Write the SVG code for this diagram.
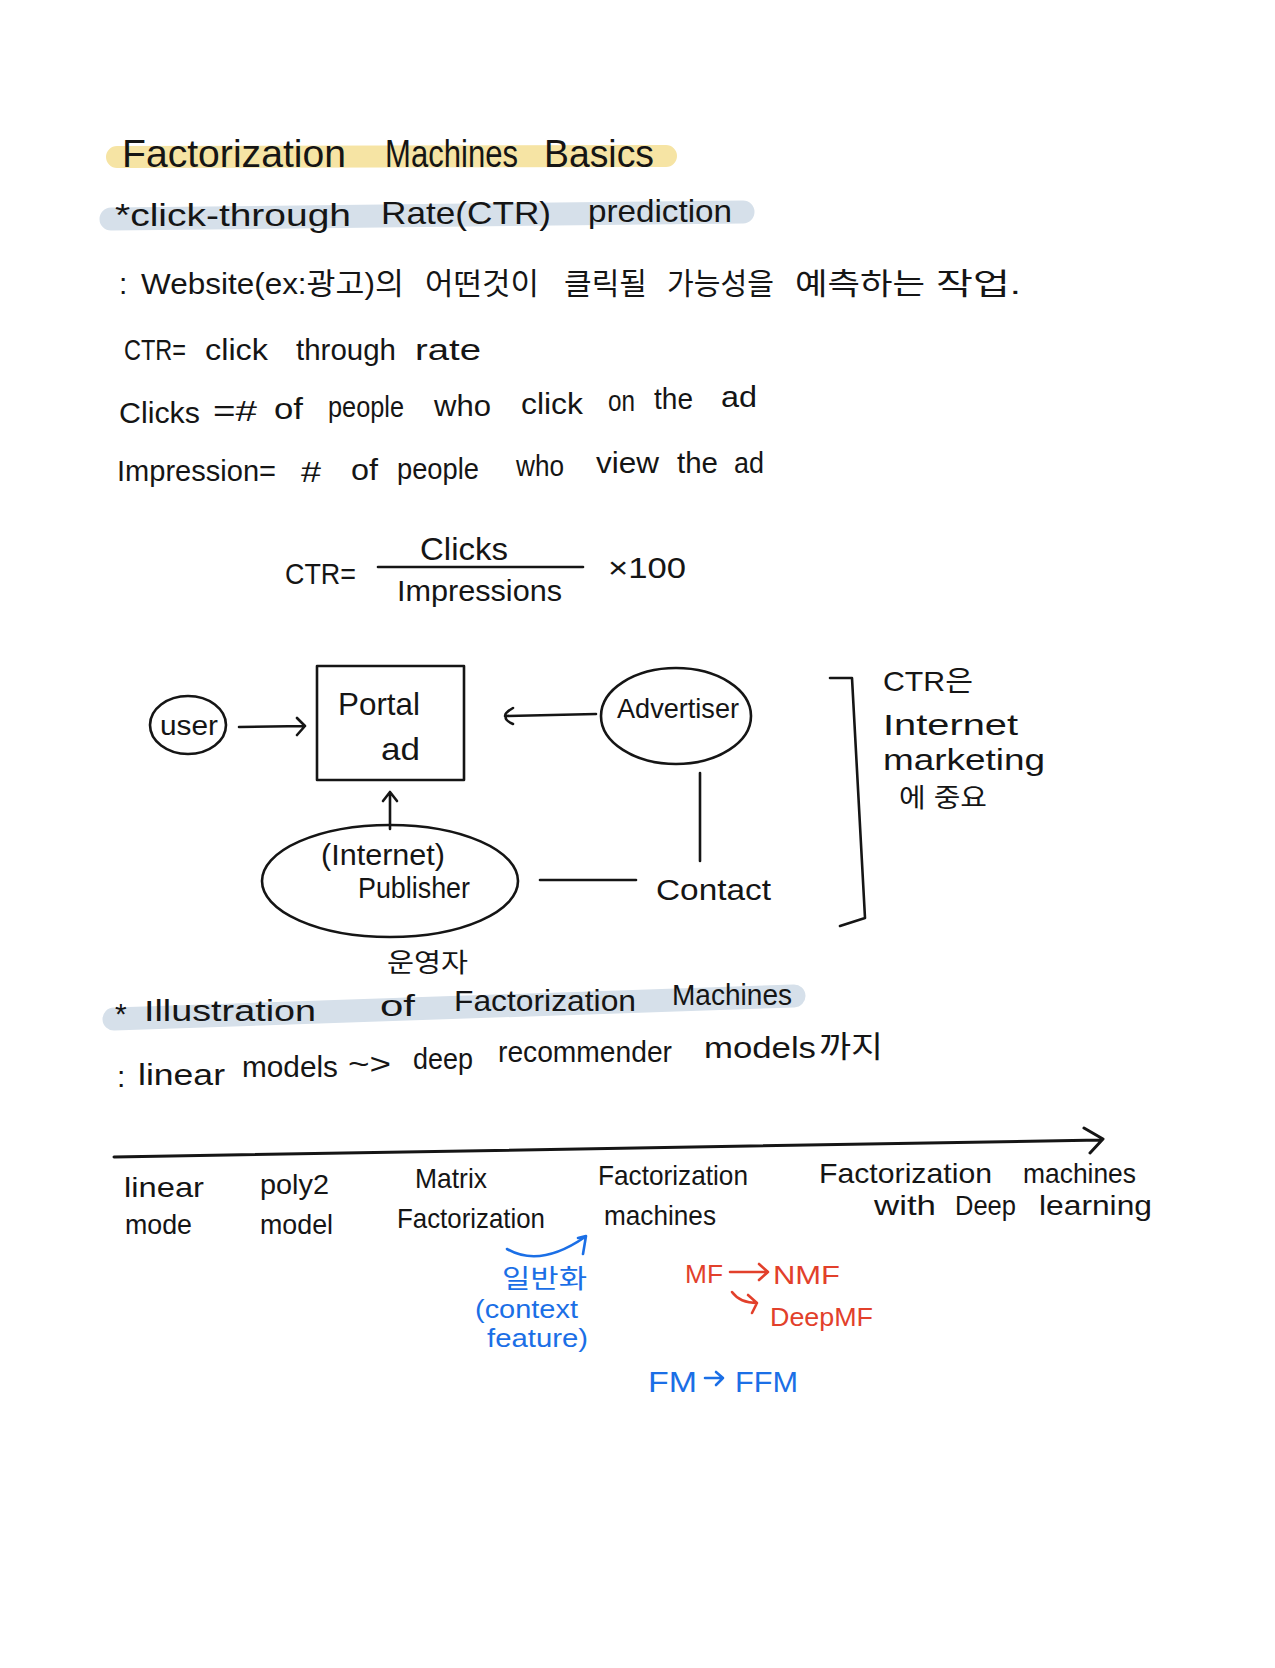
<svg xmlns="http://www.w3.org/2000/svg" width="1275" height="1668" viewBox="0 0 1275 1668">
<style>
text { font-family: "Liberation Sans", "Noto Sans CJK KR", sans-serif; fill: #151515; }
.s38 { font-size: 38px; }
.s32 { font-size: 32px; }
.s30 { font-size: 30px; }
.s28 { font-size: 28px; }
.s26 { font-size: 26px; }
.blue { fill: #1b6fe6; }
.red { fill: #e2402b; }
.ln { stroke: #151515; stroke-width: 2.6; fill: none; stroke-linecap: round; stroke-linejoin: round; }
.lnb { stroke: #1b6fe6; stroke-width: 2.6; fill: none; stroke-linecap: round; stroke-linejoin: round; }
.lnr { stroke: #e2402b; stroke-width: 2.6; fill: none; stroke-linecap: round; stroke-linejoin: round; }
.hy { stroke: #f6e4a4; stroke-width: 22; fill: none; stroke-linecap: round; }
.hb { stroke: #d6e0ea; stroke-width: 23; fill: none; stroke-linecap: round; }
</style>
<rect width="1275" height="1668" fill="#ffffff"/>

<g id="highlights">
  <path class="hy" d="M117,157 L666,156"/>
  <path class="hb" d="M111,219 L743,212"/>
  <path class="hb" d="M114,1019 L794,996"/>
</g>

<g id="notes-top">
  <text class="s38" y="167"><tspan x="122" textLength="224" lengthAdjust="spacingAndGlyphs">Factorization</tspan><tspan x="385" textLength="133" lengthAdjust="spacingAndGlyphs">Machines</tspan><tspan x="544" textLength="110" lengthAdjust="spacingAndGlyphs">Basics</tspan></text>
  <text class="s32"><tspan x="115" y="226" textLength="236" lengthAdjust="spacingAndGlyphs">*click-through</tspan><tspan x="381" y="224" textLength="170" lengthAdjust="spacingAndGlyphs">Rate(CTR)</tspan><tspan x="588" y="222" textLength="144" lengthAdjust="spacingAndGlyphs">prediction</tspan></text>
  <text class="s30" y="294"><tspan x="119">:</tspan><tspan x="141" textLength="263" lengthAdjust="spacingAndGlyphs">Website(ex:광고)의</tspan><tspan x="425" textLength="114" lengthAdjust="spacingAndGlyphs">어떤것이</tspan><tspan x="564" textLength="83" lengthAdjust="spacingAndGlyphs">클릭될</tspan><tspan x="667" textLength="107" lengthAdjust="spacingAndGlyphs">가능성을</tspan><tspan x="795" textLength="130" lengthAdjust="spacingAndGlyphs">예측하는</tspan><tspan x="936" textLength="85" lengthAdjust="spacingAndGlyphs">작업.</tspan></text>
  <text class="s30" y="360"><tspan x="124" textLength="62" lengthAdjust="spacingAndGlyphs">CTR=</tspan><tspan x="205" textLength="63" lengthAdjust="spacingAndGlyphs">click</tspan><tspan x="296" textLength="100" lengthAdjust="spacingAndGlyphs">through</tspan><tspan x="415" textLength="66" lengthAdjust="spacingAndGlyphs">rate</tspan></text>
  <text class="s30"><tspan x="119" y="423" textLength="81" lengthAdjust="spacingAndGlyphs">Clicks</tspan><tspan x="213" y="421" textLength="44" lengthAdjust="spacingAndGlyphs">=#</tspan><tspan x="274" y="419" textLength="29" lengthAdjust="spacingAndGlyphs">of</tspan><tspan x="328" y="417" textLength="76" lengthAdjust="spacingAndGlyphs">people</tspan><tspan x="434" y="416" textLength="57" lengthAdjust="spacingAndGlyphs">who</tspan><tspan x="521" y="414" textLength="62" lengthAdjust="spacingAndGlyphs">click</tspan><tspan x="608" y="411" textLength="27" lengthAdjust="spacingAndGlyphs">on</tspan><tspan x="654" y="409" textLength="39" lengthAdjust="spacingAndGlyphs">the</tspan><tspan x="721" y="407" textLength="36" lengthAdjust="spacingAndGlyphs">ad</tspan></text>
  <text class="s30"><tspan x="117" y="481" textLength="159" lengthAdjust="spacingAndGlyphs">Impression=</tspan><tspan x="301" y="482" textLength="20" lengthAdjust="spacingAndGlyphs">#</tspan><tspan x="351" y="480" textLength="27" lengthAdjust="spacingAndGlyphs">of</tspan><tspan x="397" y="479" textLength="82" lengthAdjust="spacingAndGlyphs">people</tspan><tspan x="516" y="476" textLength="48" lengthAdjust="spacingAndGlyphs">who</tspan><tspan x="596" y="473" textLength="63" lengthAdjust="spacingAndGlyphs">view</tspan><tspan x="677" y="473" textLength="41" lengthAdjust="spacingAndGlyphs">the</tspan><tspan x="734" y="473" textLength="30" lengthAdjust="spacingAndGlyphs">ad</tspan></text>
</g>

<g id="formula">
  <text class="s30" x="285" y="584" textLength="71" lengthAdjust="spacingAndGlyphs">CTR=</text>
  <text class="s32" x="420" y="560" textLength="88" lengthAdjust="spacingAndGlyphs">Clicks</text>
  <path class="ln" d="M378,567 L583,567"/>
  <text class="s30" x="397" y="601" textLength="165" lengthAdjust="spacingAndGlyphs">Impressions</text>
  <text class="s30" x="608" y="578" textLength="78" lengthAdjust="spacingAndGlyphs">×100</text>
</g>

<g id="user">
  <ellipse class="ln" cx="188" cy="725" rx="38" ry="29"/>
  <text class="s28" x="160" y="735" textLength="58" lengthAdjust="spacingAndGlyphs">user</text>
</g>

<g id="portal-ad">
  <rect class="ln" x="317" y="666" width="147" height="114"/>
  <text class="s32" x="338" y="715" textLength="82" lengthAdjust="spacingAndGlyphs">Portal</text>
  <text class="s32" x="381" y="760" textLength="39" lengthAdjust="spacingAndGlyphs">ad</text>
</g>

<g id="advertiser">
  <ellipse class="ln" cx="676" cy="716" rx="75" ry="48"/>
  <text class="s28" x="617" y="718" textLength="122" lengthAdjust="spacingAndGlyphs">Advertiser</text>
</g>

<g id="publisher">
  <ellipse class="ln" cx="390" cy="881" rx="128" ry="56"/>
  <text class="s30" x="321" y="865" textLength="124" lengthAdjust="spacingAndGlyphs">(Internet)</text>
  <text class="s30" x="358" y="898" textLength="112" lengthAdjust="spacingAndGlyphs">Publisher</text>
  <text class="s26" x="387" y="972" textLength="81" lengthAdjust="spacingAndGlyphs">운영자</text>
</g>

<g id="contact">
  <text class="s30" x="656" y="900" textLength="115" lengthAdjust="spacingAndGlyphs">Contact</text>
</g>

<g id="ctr-note">
  <path class="ln" d="M830,678 L852,678 L865,918 L840,926"/>
  <text class="s28" x="883" y="691" textLength="90" lengthAdjust="spacingAndGlyphs">CTR은</text>
  <text class="s30" x="883" y="735" textLength="135" lengthAdjust="spacingAndGlyphs">Internet</text>
  <text class="s30" x="883" y="770" textLength="162" lengthAdjust="spacingAndGlyphs">marketing</text>
  <text class="s26" x="899" y="807" textLength="88" lengthAdjust="spacingAndGlyphs">에 중요</text>
</g>

<g id="connectors">
  <path class="ln" d="M239,727 L305,726 M297,718 L305,726 L297,735"/>
  <path class="ln" d="M596,714 L505,716 M513,708 Q503,714 506,716 Q504,720 513,724"/>
  <path class="ln" d="M390,829 L390,792 M383,801 L390,792 L397,801"/>
  <path class="ln" d="M700,773 L700,861"/>
  <path class="ln" d="M540,880 L636,880"/>
</g>

<g id="notes-bottom">
  <text class="s30"><tspan x="115" y="1024">*</tspan><tspan x="144" y="1021" textLength="172" lengthAdjust="spacingAndGlyphs">Illustration</tspan><tspan x="380" y="1016" textLength="35" lengthAdjust="spacingAndGlyphs">of</tspan><tspan x="454" y="1011" textLength="182" lengthAdjust="spacingAndGlyphs">Factorization</tspan><tspan x="672" y="1005" textLength="120" lengthAdjust="spacingAndGlyphs">Machines</tspan></text>
  <text class="s30"><tspan x="117" y="1087">:</tspan><tspan x="138" y="1085" textLength="87" lengthAdjust="spacingAndGlyphs">linear</tspan><tspan x="242" y="1077" textLength="96" lengthAdjust="spacingAndGlyphs">models</tspan><tspan x="348" y="1074" textLength="43" lengthAdjust="spacingAndGlyphs">~&gt;</tspan><tspan x="413" y="1069" textLength="60" lengthAdjust="spacingAndGlyphs">deep</tspan><tspan x="498" y="1062" textLength="174" lengthAdjust="spacingAndGlyphs">recommender</tspan><tspan x="704" y="1058" textLength="112" lengthAdjust="spacingAndGlyphs">models</tspan><tspan x="819" y="1057" textLength="64" lengthAdjust="spacingAndGlyphs">까지</tspan></text>
</g>

<g id="timeline">
  <path class="ln" style="stroke-width:3" d="M114,1157 L1101,1140 M1084,1128 L1103,1139 L1090,1153"/>
</g>

<g id="stage-linear">
  <text class="s28" x="124" y="1197" textLength="80" lengthAdjust="spacingAndGlyphs">linear</text>
  <text class="s28" x="125" y="1234" textLength="67" lengthAdjust="spacingAndGlyphs">mode</text>
</g>
<g id="stage-poly2">
  <text class="s28" x="260" y="1194" textLength="69" lengthAdjust="spacingAndGlyphs">poly2</text>
  <text class="s28" x="260" y="1234" textLength="73" lengthAdjust="spacingAndGlyphs">model</text>
</g>
<g id="stage-mf">
  <text class="s28" x="415" y="1188" textLength="72" lengthAdjust="spacingAndGlyphs">Matrix</text>
  <text class="s28" x="397" y="1228" textLength="148" lengthAdjust="spacingAndGlyphs">Factorization</text>
</g>
<g id="stage-fm">
  <text class="s28" x="598" y="1185" textLength="150" lengthAdjust="spacingAndGlyphs">Factorization</text>
  <text class="s28" x="604" y="1225" textLength="112" lengthAdjust="spacingAndGlyphs">machines</text>
</g>
<g id="stage-fm-deep">
  <text class="s28" y="1183"><tspan x="819" textLength="173" lengthAdjust="spacingAndGlyphs">Factorization</tspan><tspan x="1023" textLength="113" lengthAdjust="spacingAndGlyphs">machines</tspan></text>
  <text class="s28" y="1215"><tspan x="874" textLength="62" lengthAdjust="spacingAndGlyphs">with</tspan><tspan x="955" textLength="61" lengthAdjust="spacingAndGlyphs">Deep</tspan><tspan x="1039" textLength="113" lengthAdjust="spacingAndGlyphs">learning</tspan></text>
</g>

<g id="generalize-note">
  <path class="lnb" d="M507,1249 Q540,1268 585,1237 M578,1238 L586,1236 L583,1254"/>
  <text class="s26 blue" x="502" y="1288" textLength="85" lengthAdjust="spacingAndGlyphs">일반화</text>
  <text class="s26 blue" x="475" y="1318" textLength="103" lengthAdjust="spacingAndGlyphs">(context</text>
  <text class="s26 blue" x="487" y="1347" textLength="101" lengthAdjust="spacingAndGlyphs">feature)</text>
</g>

<g id="mf-note">
  <text class="s26 red" x="685" y="1283" textLength="38" lengthAdjust="spacingAndGlyphs">MF</text>
  <path class="lnr" d="M730,1272 L768,1272 M759,1264 L768,1272 L759,1280"/>
  <text class="s26 red" x="773" y="1284" textLength="67" lengthAdjust="spacingAndGlyphs">NMF</text>
  <path class="lnr" d="M732,1292 Q740,1303 757,1303 M748,1295 L757,1303 L752,1313"/>
  <text class="s26 red" x="770" y="1326" textLength="103" lengthAdjust="spacingAndGlyphs">DeepMF</text>
</g>

<g id="fm-note">
  <text class="s30 blue" x="648" y="1392" textLength="49" lengthAdjust="spacingAndGlyphs">FM</text>
  <path class="lnb" d="M705,1378 L723,1378 M716,1372 L723,1378 L716,1385"/>
  <text class="s30 blue" x="735" y="1392" textLength="63" lengthAdjust="spacingAndGlyphs">FFM</text>
</g>
</svg>
